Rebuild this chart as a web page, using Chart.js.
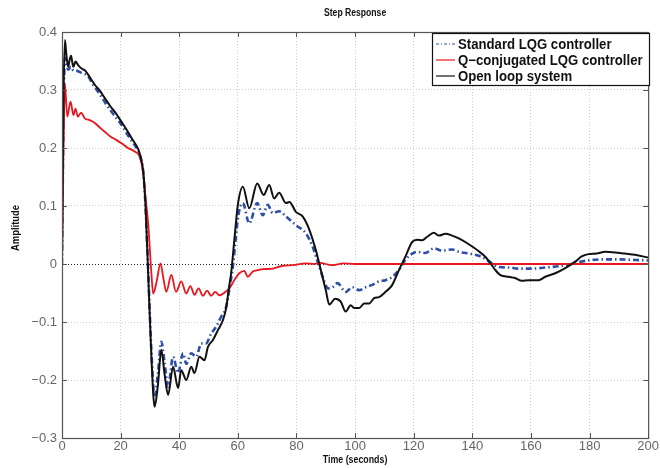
<!DOCTYPE html>
<html><head><meta charset="utf-8">
<script src="https://cdn.jsdelivr.net/npm/chart.js@4.4.0/dist/chart.umd.min.js"></script>
<style>html,body{margin:0;padding:0;background:#fff}#wrap{width:660px;height:468px;position:relative}</style>
</head><body><div id="wrap"><canvas id="c" width="660" height="468"></canvas></div>
<script>
const chartTitle = "Step Response";
const xTitle = "Time (seconds)";
const yTitle = "Amplitude";
const seriesNames = ["Standard LQG controller", "Q\u2212conjugated LQG controller", "Open loop system"];
const xTicks = [0,20,40,60,80,100,120,140,160,180,200];
const yTicks = [-0.3,-0.2,-0.1,0,0.1,0.2,0.3,0.4];

// Standard LQG controller
const lqgT = [0,0.5,1.0,1.5,2.1,3,4,5,6.5,9,10.5,12.3,14.5,16.5,18.5,20.3,22.5,24.8,26,27,27.7,28.5,29.4,30.5,31.6,32.7,33.9,35,36.2,37.9,39.6,41.3,42.4,44.1,45.8,47.5,49.1,50.9,52.6,54.3,56,57.2,58.3,59.2,60.2,61.7,63.9,66.6,68.5,70.2,71.9,74.1,76.4,79.8,83.2,85.5,87.8,89.5,90.8,92.3,94,96.8,99,101.4,103.6,105.9,108.2,110.4,112.7,115,117.2,119.5,121.2,124,126.9,129.7,133.1,135.4,139.9,143.3,145.5,149,152.4,155.8,160.3,164.9,169.4,173.9,176.2,180.7,185.3,189.8,195.5,200];
const lqgY = [0,0.25,0.355,0.345,0.335,0.34,0.333,0.333,0.33,0.323,0.31,0.297,0.28,0.265,0.252,0.24,0.222,0.205,0.195,0.18,0.16,0.10,-0.01,-0.15,-0.229,-0.19,-0.134,-0.17,-0.211,-0.16,-0.188,-0.154,-0.172,-0.154,-0.16,-0.137,-0.137,-0.12,-0.108,-0.091,-0.074,-0.04,-0.005,0.04,0.085,0.105,0.07,0.105,0.084,0.102,0.088,0.091,0.082,0.067,0.053,0.03,-0.005,-0.03,-0.042,-0.04,-0.033,-0.048,-0.04,-0.045,-0.04,-0.036,-0.03,-0.028,-0.022,-0.01,0.007,0.018,0.021,0.019,0.027,0.023,0.025,0.021,0.017,0.012,0.005,-0.005,-0.006,-0.008,-0.008,-0.006,-0.004,0.0,0.003,0.007,0.008,0.008,0.007,0.006];

// Q-conjugated LQG controller
const qcT = [0,0.5,1.0,1.8,2.9,3.9,4.6,5.4,6.5,7.8,9.5,11.2,13,14.6,16.5,18.5,20.3,22.5,24.8,26.5,27.7,28.5,29.4,30.5,31.1,32.3,33.6,34.6,35.6,37.3,38.9,40.7,42.4,43.8,45.2,46.6,48.1,49.5,50.9,52.3,53.7,55.8,57.1,58.8,60.5,62.2,63.4,65.1,66.4,68.5,71.9,75.3,78.7,83.2,86,88,92,96,100,120,150,200];
const qcY = [0,0.2,0.31,0.254,0.28,0.257,0.268,0.254,0.261,0.251,0.248,0.243,0.235,0.228,0.22,0.214,0.208,0.2,0.194,0.185,0.156,0.115,0.07,-0.016,-0.051,-0.03,0.001,-0.025,-0.048,-0.019,-0.048,-0.03,-0.051,-0.038,-0.053,-0.042,-0.055,-0.046,-0.055,-0.048,-0.054,-0.048,-0.042,-0.028,-0.016,-0.012,-0.022,-0.013,-0.011,-0.009,-0.008,-0.003,-0.002,0.001,0.0,0.002,-0.002,0.001,0,0,0,0];

// Open loop system
const olT = [0,0.5,1.0,1.5,2.1,2.6,3.1,3.5,3.9,4.6,5.5,6.7,8,9.5,11.2,13,14.6,16.5,18.5,20.3,22,24,26,26.8,27.7,28.5,29.4,30.5,31.6,32.7,33.9,35,36.2,37.9,39.6,40.7,42.4,44.1,45.2,46.9,48.6,49.8,51.5,53.2,54.9,56,57,57.7,58.8,60,61.7,63.9,66.6,68.8,70.7,72.4,74.1,76.4,77.6,79.8,82.1,84.4,86.6,88.3,90,91.2,93.2,95.1,96.8,98.5,99.7,101.4,103.1,104.8,106.5,108.2,110.4,112.7,115,117.2,119.5,121.2,122.9,124.6,126.9,128.6,130.8,133.1,135.4,138.8,142.2,144.5,146.2,147.8,149.6,152.4,154.6,156.9,159.2,162.6,164.9,168.3,171.7,175.1,177.3,179.6,182.4,185.3,188.7,192.1,195.5,200];
const olY = [0,0.28,0.386,0.36,0.34,0.352,0.359,0.348,0.34,0.349,0.343,0.337,0.333,0.322,0.309,0.298,0.286,0.272,0.259,0.245,0.232,0.215,0.198,0.185,0.16,0.10,-0.016,-0.16,-0.246,-0.21,-0.148,-0.19,-0.226,-0.177,-0.214,-0.183,-0.2,-0.177,-0.188,-0.16,-0.166,-0.143,-0.131,-0.114,-0.097,-0.076,-0.04,-0.016,0.041,0.102,0.133,0.096,0.139,0.119,0.136,0.113,0.123,0.105,0.107,0.09,0.082,0.059,0.024,-0.01,-0.045,-0.07,-0.06,-0.065,-0.082,-0.071,-0.076,-0.076,-0.068,-0.068,-0.059,-0.057,-0.048,-0.036,-0.01,0.013,0.038,0.042,0.041,0.047,0.054,0.049,0.052,0.049,0.044,0.034,0.022,0.012,0.001,-0.01,-0.019,-0.022,-0.024,-0.029,-0.028,-0.028,-0.022,-0.016,-0.007,0.004,0.013,0.017,0.018,0.021,0.02,0.018,0.016,0.011];

const FONT = "'Liberation Sans', Arial, Helvetica, sans-serif";
const pts = (T, Y) => T.map((t, i) => ({x: t, y: Y[i]}));
const fmt = v => { const r = Math.round(v * 10) / 10; if (r === 0) return "0"; return (r < 0 ? "\u2212" : "") + Math.abs(r).toString(); };

function condensedText(ctx, text, x, y, font, sx, align, rot) {
  ctx.save();
  ctx.translate(x, y);
  if (rot) ctx.rotate(rot);
  ctx.scale(sx, 1);
  ctx.font = font; ctx.textAlign = align; ctx.textBaseline = 'middle';
  ctx.fillText(text, 0, 0);
  ctx.restore();
}

const decor = {
  id: 'decor',
  afterDraw(chart) {
    const ctx = chart.ctx, a = chart.chartArea, xs = chart.scales.x, ys = chart.scales.y;
    ctx.save();
    // inward tick marks
    ctx.strokeStyle = '#555'; ctx.lineWidth = 1; ctx.setLineDash([]);
    ctx.beginPath();
    xTicks.forEach(v => { const px = Math.round(xs.getPixelForValue(v)) + 0.5;
      ctx.moveTo(px, a.bottom); ctx.lineTo(px, a.bottom - 5);
      ctx.moveTo(px, a.top); ctx.lineTo(px, a.top + 5); });
    yTicks.forEach(v => { const py = Math.round(ys.getPixelForValue(v)) + 0.5;
      ctx.moveTo(a.left, py); ctx.lineTo(a.left + 5, py);
      ctx.moveTo(a.right, py); ctx.lineTo(a.right - 5, py); });
    ctx.stroke();
    // axes box
    ctx.strokeStyle = '#555'; ctx.lineWidth = 1.2;
    ctx.strokeRect(a.left + 0.5, a.top + 0.5, a.right - a.left, a.bottom - a.top);
    // titles
    ctx.fillStyle = '#111';
    const cx = (a.left + a.right) / 2;
    condensedText(ctx, chartTitle, cx, 13, "bold 10.5px " + FONT, 0.82, 'center');
    condensedText(ctx, xTitle, cx, 460, "bold 10.5px " + FONT, 0.84, 'center');
    condensedText(ctx, yTitle, 16, 228, "bold 10.5px " + FONT, 0.9, 'center', -Math.PI / 2);
    // legend
    const lx = 432, ly = 33, lw = 217, lh = 52;
    ctx.fillStyle = '#fff'; ctx.fillRect(lx, ly, lw, lh);
    ctx.strokeStyle = '#111'; ctx.lineWidth = 1.2; ctx.strokeRect(lx + 0.5, ly + 0.5, lw, lh);
    const ds = chart.data.datasets;
    ds.forEach((d, i) => {
      const yy = ly + 11 + i * 16;
      ctx.save();
      ctx.strokeStyle = d.borderColor; ctx.lineWidth = i === 0 ? 1 : 1.2;
      ctx.setLineDash(i === 0 ? [3, 2, 1, 2] : []);
      ctx.beginPath(); ctx.moveTo(lx + 4, yy); ctx.lineTo(lx + 23, yy); ctx.stroke();
      ctx.restore();
      ctx.fillStyle = '#111';
      condensedText(ctx, d.label, lx + 26, yy + 1, "bold 14px " + FONT, 0.94, 'left');
    });
    ctx.restore();
  }
};

new Chart(document.getElementById('c'), {
  type: 'line',
  data: {
    datasets: [
      { label: seriesNames[0], data: pts(lqgT, lqgY), borderColor: '#2d4fa6', borderWidth: 2.6, borderDash: [6, 3, 1.5, 3], order: 3 },
      { label: seriesNames[1], data: pts(qcT, qcY), borderColor: '#e8161e', borderWidth: 1.8, order: 2 },
      { label: seriesNames[2], data: pts(olT, olY), borderColor: '#111111', borderWidth: 2, order: 1 }
    ]
  },
  options: {
    responsive: false, animation: false, devicePixelRatio: 1,
    layout: { padding: { top: 32, left: 0, right: 10, bottom: 0 } },
    elements: { point: { radius: 0 }, line: { cubicInterpolationMode: 'monotone', borderCapStyle: 'butt' } },
    plugins: { legend: { display: false }, title: { display: false }, tooltip: { enabled: false } },
    scales: {
      x: {
        type: 'linear', min: 0, max: 200,
        afterFit: s => { s.height = 30; },
        afterBuildTicks: s => { s.ticks = xTicks.map(v => ({ value: v })); },
        ticks: { color: '#666', font: { family: FONT, size: 13 }, padding: 1, maxRotation: 0, autoSkip: false, callback: v => String(v) },
        grid: { color: '#cccccc', lineWidth: 1, drawTicks: false },
        border: { display: false, dash: [1, 2] }
      },
      y: {
        type: 'linear', min: -0.3, max: 0.4,
        afterFit: s => { s.width = 62; },
        afterBuildTicks: s => { s.ticks = yTicks.map(v => ({ value: v })); },
        ticks: { color: '#666', font: { family: FONT, size: 13 }, padding: 5, autoSkip: false, callback: v => fmt(v) },
        grid: { color: c => (c.tick && Math.abs(c.tick.value) < 1e-9) ? '#222' : '#cccccc', lineWidth: 1, drawTicks: false },
        border: { display: false, dash: [1, 2] }
      }
    }
  },
  plugins: [decor]
});
</script>
</body></html>
